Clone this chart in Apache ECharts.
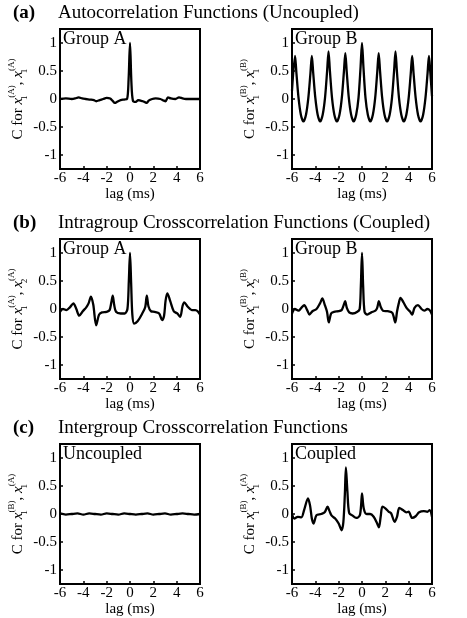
<!DOCTYPE html>
<html>
<head>
<meta charset="utf-8">
<script src="https://cdn.jsdelivr.net/npm/echarts@6/dist/echarts.min.js"></script>
<style>
  html, body { margin: 0; padding: 0; background: #fff; }
  #chart { width: 467px; height: 618px; }
</style>
</head>
<body>
<div id="chart"></div>
<script>
// tick values
const yTicks = [-1, -0.5, 0, 0.5, 1]

// (a) autocorrelation, group A
const lagAutoA = [-6, -5.5, -5, -4.7, -4.4, -4.1, -3.8, -3.4, -3.1, -2.9, -2.6, -2.3, -2.0, -1.7, -1.5, -1.3, -1.1, -0.8, -0.5, -0.25, -0.12, 0, 0.12, 0.25, 0.5, 0.7, 0.9, 1.1, 1.3, 1.45, 1.6, 1.9, 2.2, 2.6, 2.9, 3.05, 3.25, 3.5, 3.9, 4.2, 4.5, 4.8, 5.2, 5.6, 6]
const autoA = [0, 0.01, 0, 0.01, 0.03, 0.01, 0, -0.01, -0.02, -0.04, -0.02, 0, 0.02, 0.01, -0.03, -0.07, -0.05, -0.02, -0.01, 0, 0.35, 1.0, 0.3, -0.03, -0.05, -0.02, -0.03, -0.04, -0.06, -0.07, -0.03, 0, 0.01, 0, -0.03, -0.04, 0.03, 0.01, 0, 0.03, 0.01, 0, 0, 0, 0]

// (a) autocorrelation, group B
const lagAutoB = [-6.0, -5.74, -5.62, -5.44, -5.24, -5.02, -4.80, -4.60, -4.42, -4.30, -4.18, -4.00, -3.80, -3.585, -3.37, -3.17, -2.99, -2.87, -2.75, -2.57, -2.37, -2.15, -1.93, -1.73, -1.55, -1.43, -1.31, -1.13, -0.93, -0.715, -0.50, -0.30, -0.12, 0, 0.12, 0.30, 0.50, 0.715, 0.93, 1.13, 1.31, 1.43, 1.55, 1.73, 1.93, 2.15, 2.37, 2.57, 2.75, 2.87, 2.99, 3.17, 3.37, 3.585, 3.80, 4.00, 4.18, 4.30, 4.42, 4.60, 4.80, 5.02, 5.24, 5.44, 5.62, 5.74, 5.86, 6.0]
const autoB = [0.15, 0.77, 0.46, 0.02, -0.28, -0.40, -0.28, 0.02, 0.46, 0.77, 0.46, 0.02, -0.28, -0.40, -0.28, 0.02, 0.5, 0.85, 0.5, 0.02, -0.28, -0.40, -0.28, 0.02, 0.49, 0.82, 0.49, 0.02, -0.28, -0.40, -0.28, 0.02, 0.58, 1.0, 0.58, 0.02, -0.28, -0.40, -0.28, 0.02, 0.49, 0.82, 0.49, 0.02, -0.28, -0.40, -0.28, 0.02, 0.5, 0.85, 0.5, 0.02, -0.28, -0.40, -0.28, 0.02, 0.46, 0.77, 0.46, 0.02, -0.28, -0.40, -0.28, 0.02, 0.46, 0.77, 0.46, 0.05]

// (b) intragroup crosscorrelation, group A
const lagIntraA = [-6.0, -5.75, -5.45, -5.15, -4.85, -4.6, -4.35, -4.05, -3.75, -3.55, -3.35, -3.15, -2.9, -2.65, -2.4, -2.0, -1.75, -1.6, -1.48, -1.36, -1.2, -0.8, -0.45, -0.22, -0.1, 0, 0.1, 0.2, 0.35, 0.65, 1.05, 1.3, 1.44, 1.58, 1.8, 2.1, 2.5, 2.75, 2.92, 3.05, 3.2, 3.45, 3.75, 4.05, 4.3, 4.5, 4.65, 4.95, 5.3, 5.6, 5.85, 6.0]
const intraA = [-0.05, 0, -0.02, 0.03, 0.1, 0, -0.12, -0.04, 0.03, 0.1, 0.22, 0.08, -0.29, -0.1, -0.06, -0.05, -0.02, 0.12, 0.24, 0.08, -0.05, -0.08, -0.08, 0, 0.5, 1.0, 0.45, -0.1, -0.26, -0.22, -0.08, 0.03, 0.24, 0.05, -0.04, -0.05, -0.08, -0.2, -0.12, 0.15, 0.28, 0.14, -0.04, -0.08, -0.14, 0.05, 0.12, 0.04, -0.02, -0.02, -0.05, -0.1]

// (b) intragroup crosscorrelation, group B
const lagIntraB = [-6.0, -5.75, -5.45, -5.2, -4.95, -4.7, -4.5, -4.25, -3.9, -3.6, -3.4, -3.2, -3.0, -2.85, -2.65, -2.4, -2.0, -1.75, -1.6, -1.45, -1.3, -1.1, -0.8, -0.4, -0.2, -0.1, 0, 0.1, 0.22, 0.45, 0.8, 1.15, 1.3, 1.45, 1.6, 1.8, 2.2, 2.6, 2.85, 3.0, 3.15, 3.3, 3.55, 3.85, 4.1, 4.3, 4.5, 4.8, 5.1, 5.35, 5.6, 5.8, 6.0]
const intraB = [-0.08, 0, -0.03, 0.02, 0.07, -0.02, -0.1, -0.04, 0, 0.1, 0.19, 0.08, -0.05, -0.24, -0.08, -0.05, -0.04, -0.02, 0.05, 0.14, 0.02, -0.06, -0.08, -0.05, 0, 0.4, 1.0, 0.4, -0.05, -0.1, -0.06, -0.03, 0.02, 0.14, 0.04, -0.03, -0.04, -0.07, -0.24, -0.05, 0.1, 0.2, 0.12, 0.01, -0.04, -0.1, 0.02, 0.07, 0, -0.03, 0, -0.02, -0.1]

// (c) intergroup crosscorrelation, uncoupled
const lagInterU = [-6, -5.5, -5, -4.5, -4, -3.5, -3, -2.5, -2, -1.5, -1, -0.5, 0, 0.5, 1, 1.5, 2, 2.5, 3, 3.5, 4, 4.5, 5, 5.5, 6]
const interU = [0.01, -0.01, 0, 0.01, -0.01, 0.01, 0, -0.01, 0.01, 0, -0.01, 0.01, 0, -0.01, 0, 0.01, -0.01, 0, 0.01, -0.01, 0, 0.01, 0, -0.01, 0]

// (c) intergroup crosscorrelation, coupled
const lagInterC = [-6.0, -5.8, -5.5, -5.2, -4.95, -4.63, -4.45, -4.3, -4.15, -3.9, -3.5, -3.2, -2.95, -2.8, -2.6, -2.3, -2.0, -1.75, -1.6, -1.47, -1.38, -1.25, -1.1, -0.8, -0.5, -0.2, -0.08, 0, 0.15, 0.4, 0.7, 1.0, 1.3, 1.45, 1.6, 1.75, 2.0, 2.3, 2.5, 2.8, 3.0, 3.2, 3.5, 3.8, 4.0, 4.3, 4.6, 4.9, 5.3, 5.6, 5.8, 6.0]
const interC = [0, -0.08, -0.05, -0.06, 0.08, 0.28, 0.15, -0.08, -0.17, -0.02, 0, 0.03, 0.13, 0.06, -0.03, -0.08, -0.17, -0.29, -0.15, 0.35, 0.83, 0.4, 0.02, -0.03, -0.07, -0.03, 0.15, 0.37, 0.1, 0, 0, -0.05, -0.17, -0.24, -0.05, 0.13, 0.1, 0.04, 0.01, -0.14, -0.05, 0.11, 0.07, 0.03, 0.04, -0.07, -0.04, 0.03, 0.05, 0.04, 0.07, -0.05]

const rowLetters = ['a', 'b', 'c']
const rowTitles = ['Autocorrelation Functions (Uncoupled)', 'Intragroup Crosscorrelation Functions (Coupled)', 'Intergroup Crosscorrelation Functions']
const panelLabels = ['Group A', 'Group B', 'Group A', 'Group B', 'Uncoupled', 'Coupled']
// [sub, sup, sub, sup] for "C for x_a^(b), x_c^(d)"
const yNameParts = [['1', 'A', '1', 'A'], ['1', 'B', '1', 'B'], ['1', 'A', '2', 'A'], ['1', 'B', '2', 'B'], ['1', 'B', '1', 'A'], ['1', 'B', '1', 'A']]
const panelLags = [lagAutoA, lagAutoB, lagIntraA, lagIntraB, lagInterU, lagInterC]
const panelValues = [autoA, autoB, intraA, intraB, interU, interC]

const serif = '"Liberation Serif", "DejaVu Serif", serif'
const colLeft = [60, 292]
const rowTop = [29, 239, 444]
const boxSize = 140

const grids = [], xAxes = [], yAxes = [], series = [], titles = []

rowLetters.forEach((letter, r) => {
  titles.push({
    left: 13, top: rowTop[r] - 25, padding: 0,
    text: `{n|(}{b|${letter}}{n|)}`,
    textStyle: {
      rich: {
        n: { fontFamily: serif, fontSize: 19, color: '#000' },
        b: { fontFamily: serif, fontSize: 19, fontWeight: 'bold', color: '#000' }
      }
    }
  })
  titles.push({
    left: 58, top: rowTop[r] - 25, padding: 0,
    text: rowTitles[r],
    textStyle: { fontFamily: serif, fontSize: 19, fontWeight: 'normal', color: '#000' }
  })
})

panelLabels.forEach((label, i) => {
  const r = Math.floor(i / 2), c = i % 2
  const p = yNameParts[i]
  grids.push({
    left: colLeft[c], top: rowTop[r], width: boxSize, height: boxSize,
    show: true, borderColor: '#000', borderWidth: 2, backgroundColor: 'transparent'
  })
  titles.push({
    left: colLeft[c] + 3, top: rowTop[r] + 1, padding: 0,
    text: label,
    textStyle: { fontFamily: serif, fontSize: 18, fontWeight: 'normal', color: '#000' }
  })
  xAxes.push({
    gridIndex: i, type: 'value', min: -6, max: 6, interval: 2,
    name: 'lag (ms)', nameLocation: 'middle', nameGap: 12,
    nameTextStyle: { fontFamily: serif, fontSize: 15, color: '#000' },
    axisLine: { onZero: false, lineStyle: { color: '#000', width: 2 } },
    axisTick: { inside: true, length: 3, lineStyle: { color: '#000', width: 1.5 } },
    axisLabel: { fontFamily: serif, fontSize: 15, color: '#000', margin: 2 },
    splitLine: { show: false }
  })
  yAxes.push({
    gridIndex: i, type: 'value', min: -1.25, max: 1.25,
    name: `{m|C for }{i|x}{s|${p[0]}}{p|(${p[1]})}{m|, }{i|x}{s|${p[2]}}{p|(${p[3]})}`,
    nameLocation: 'middle', nameGap: 25,
    nameTextStyle: {
      rich: {
        m: { fontFamily: serif, fontSize: 15, color: '#000', lineHeight: 22 },
        i: { fontFamily: serif, fontSize: 15, fontStyle: 'italic', color: '#000', lineHeight: 22 },
        s: { fontFamily: serif, fontSize: 9, color: '#000', width: 0, verticalAlign: 'bottom', lineHeight: 12 },
        p: { fontFamily: serif, fontSize: 9, color: '#000', verticalAlign: 'top', lineHeight: 12 }
      }
    },
    axisLine: { onZero: false, lineStyle: { color: '#000', width: 2 } },
    axisTick: { inside: true, length: 3, customValues: yTicks, lineStyle: { color: '#000', width: 1.5 } },
    axisLabel: { fontFamily: serif, fontSize: 15, color: '#000', margin: 3, customValues: yTicks },
    splitLine: { show: false }
  })
  series.push({
    type: 'line', xAxisIndex: i, yAxisIndex: i,
    data: panelLags[i].map((x, k) => [x, panelValues[i][k]]),
    showSymbol: false, smooth: 0.3,
    lineStyle: { color: '#000', width: 2.3 },
    emphasis: { disabled: true }
  })
})

const chart = echarts.init(document.getElementById('chart'))
chart.setOption({
  animation: false,
  backgroundColor: '#fff',
  title: titles,
  grid: grids,
  xAxis: xAxes,
  yAxis: yAxes,
  series: series
})
</script>
</body>
</html>
